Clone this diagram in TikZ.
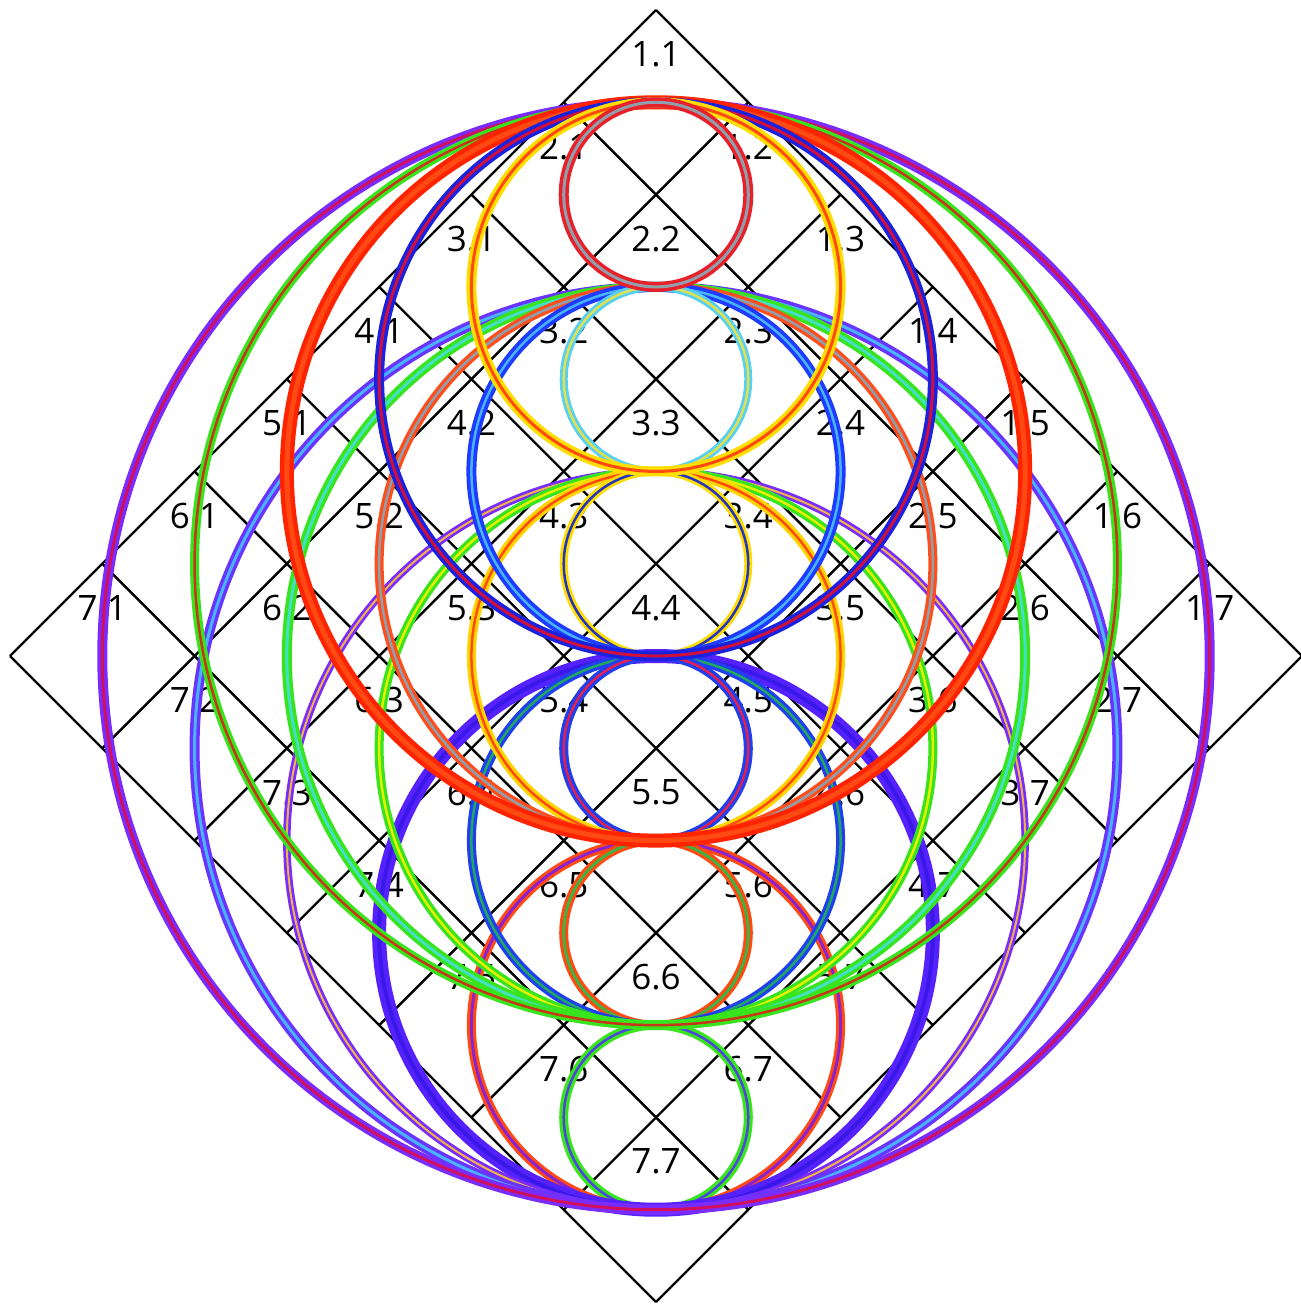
\documentclass[tikz,border=0pt]{standalone}
\usepackage{fontspec}
\setmainfont{Open Sans}
\definecolor{cRed}{HTML}{E8202A}
\definecolor{cGrey}{HTML}{8FA0AC}
\definecolor{cYel}{HTML}{FFDD00}
\definecolor{cOrR}{HTML}{FF4A12}
\definecolor{cBlue}{HTML}{1A22E0}
\definecolor{cCrim}{HTML}{D0103A}
\definecolor{cRed2}{HTML}{FF2400}
\definecolor{cRed3}{HTML}{FF4A14}
\definecolor{cGrn}{HTML}{38E41E}
\definecolor{cBrn}{HTML}{C8361A}
\definecolor{cPur}{HTML}{7A2CFF}
\definecolor{cMag}{HTML}{D0105C}
\definecolor{cCyan}{HTML}{58D0F2}
\definecolor{cYelG}{HTML}{E0E050}
\definecolor{cBlue2}{HTML}{1E3CFF}
\definecolor{cLBlue}{HTML}{48B4FF}
\definecolor{cSal}{HTML}{FF4E1E}
\definecolor{cAqua}{HTML}{44E0C4}
\definecolor{cPur2}{HTML}{6A34FF}
\definecolor{cDBlue}{HTML}{2433C0}
\definecolor{cYel2}{HTML}{FFD400}
\definecolor{cLime}{HTML}{E4F000}
\definecolor{cOchre}{HTML}{F0B448}
\definecolor{cBlue3}{HTML}{2040F0}
\definecolor{cRedI}{HTML}{E02050}
\definecolor{cGrnI}{HTML}{20A860}
\definecolor{cViol}{HTML}{5522FF}
\definecolor{cViolI}{HTML}{3A18E8}
\definecolor{cGrnI2}{HTML}{44B040}
\definecolor{cPurI}{HTML}{8A22D0}
\definecolor{cBPur}{HTML}{5044E0}
\tikzset{
  gridline/.style={black, line width=2.4pt},
  celllabel/.style={font=\fontsize{35}{38}\selectfont, inner sep=0pt, text=black}
}
\begin{document}
\begin{tikzpicture}[x=1pt,y=-1pt]
\useasboundingbox (0,0) rectangle (1301,1307);
\fill[white] (0,0) rectangle (1301,1307);
\def\h{92.286}
% grid
\foreach \k in {0,...,7}{
  \draw[gridline] ({10+\k*\h},{656-\k*\h}) -- ({656+\k*\h},{1302-\k*\h});
  \draw[gridline] ({10+\k*\h},{656+\k*\h}) -- ({656+\k*\h},{10+\k*\h});
}
% labels
\foreach \i in {1,...,7}{
  \foreach \j in {1,...,7}{
    \node[celllabel] (L\i\j) at ({656+(\j-\i)*\h},{10+(\i+\j-1)*\h-48}) {\i.\j};
  }
}
% rings: a/b/outer/inner/outer width/inner width
\foreach \a/\b/\co/\ci/\wo/\wi in {
  6/7/cGrn/cBPur/9/2.5,
  5/7/cRed3/cPurI/9/3,
  5/6/cRed3/cGrnI2/9/3,
  4/7/cViol/cViolI/14/4,
  4/6/cBlue3/cGrnI/9/2.5,
  4/5/cBlue3/cRedI/9/2.5,
  3/7/cPur/cOchre/7.5/2,
  3/6/cGrn/cLime/9/2.5,
  3/5/cYel2/cOrR/9/2.5,
  3/4/cYel/cDBlue/8/2.5,
  2/7/cPur2/cLBlue/10/3,
  2/6/cGrn/cAqua/10/3,
  2/5/cSal/cGrey/9/2.5,
  2/4/cBlue2/cLBlue/10/2.5,
  2/3/cCyan/cYelG/8/2.5,
  1/7/cPur/cMag/10/3,
  1/6/cGrn/cBrn/9/2.5,
  1/5/cRed2/cRed3/14/5,
  1/4/cBlue/cCrim/10/3,
  1/3/cYel/cOrR/10/3,
  1/2/cRed/cGrey/10/3}{
  \pgfmathsetmacro\cy{10+(\a+\b-1)*\h}
  \pgfmathsetmacro\rr{(\b-\a)*\h}
  \draw[draw=\co, line width=\wo pt] (656,\cy) circle[radius=\rr];
  \draw[draw=\ci, line width=\wi pt] (656,\cy) circle[radius=\rr];
}
\end{tikzpicture}
\end{document}
